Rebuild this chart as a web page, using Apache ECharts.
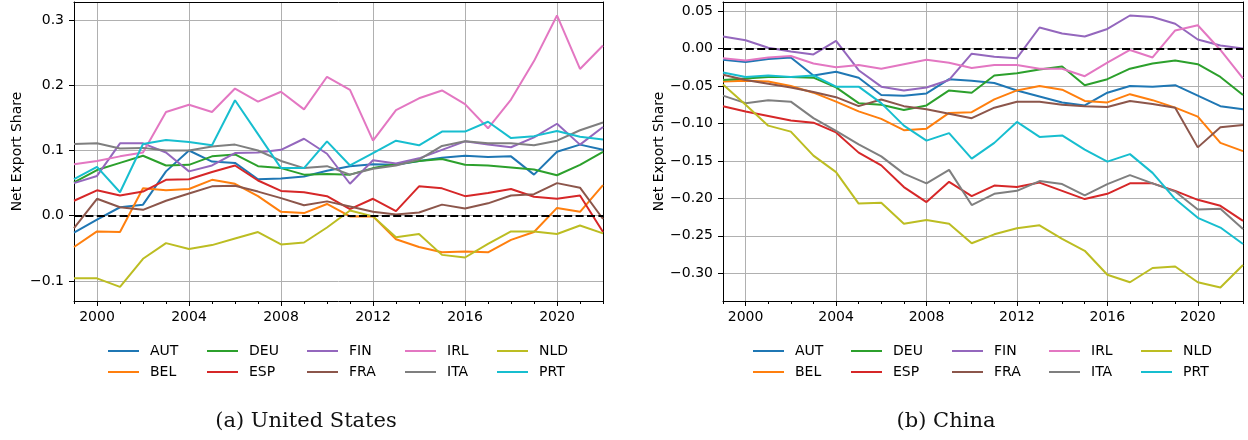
<!DOCTYPE html>
<html>
<head>
<meta charset="utf-8">
<script src="https://cdn.jsdelivr.net/npm/echarts@6/dist/echarts.min.js"></script>
<style>
  html, body { margin: 0; padding: 0; background: #fff; }
  #chart { width: 1248px; height: 440px; }
</style>
</head>
<body>
<div id="chart"></div>
<script>
// Years on the horizontal axis
const years = [1999, 2000, 2001, 2002, 2003, 2004, 2005, 2006, 2007, 2008, 2009, 2010,
               2011, 2012, 2013, 2014, 2015, 2016, 2017, 2018, 2019, 2020, 2021, 2022];
const yearTicks = [2000, 2004, 2008, 2012, 2016, 2020];

const countries = ['AUT', 'BEL', 'DEU', 'ESP', 'FIN', 'FRA', 'IRL', 'ITA', 'NLD', 'PRT'];
const colors = ['#1f77b4', '#ff7f0e', '#2ca02c', '#d62728', '#9467bd',
                '#8c564b', '#e377c2', '#7f7f7f', '#bcbd22', '#17becf'];

// (a) Net export share vis-a-vis the United States
const usAUT = [-0.026, -0.006, 0.013, 0.017, 0.068, 0.100, 0.083, 0.081, 0.056, 0.057, 0.060, 0.069, 0.076, 0.079, 0.078, 0.084, 0.089, 0.092, 0.090, 0.091, 0.063, 0.098, 0.109, 0.101];
const usBEL = [-0.048, -0.024, -0.025, 0.042, 0.039, 0.041, 0.055, 0.049, 0.030, 0.006, 0.004, 0.018, -0.001, -0.001, -0.036, -0.048, -0.056, -0.055, -0.056, -0.037, -0.025, 0.012, 0.006, 0.047];
const usDEU = [0.051, 0.070, 0.081, 0.092, 0.077, 0.078, 0.091, 0.094, 0.076, 0.073, 0.063, 0.064, 0.063, 0.073, 0.079, 0.084, 0.087, 0.078, 0.077, 0.074, 0.071, 0.062, 0.078, 0.098];
const usESP = [0.023, 0.039, 0.031, 0.037, 0.055, 0.056, 0.067, 0.077, 0.054, 0.038, 0.036, 0.030, 0.010, 0.026, 0.007, 0.045, 0.042, 0.030, 0.035, 0.041, 0.029, 0.026, 0.031, -0.025];
const usFIN = [0.050, 0.061, 0.111, 0.111, 0.097, 0.068, 0.077, 0.096, 0.097, 0.101, 0.118, 0.095, 0.049, 0.085, 0.080, 0.088, 0.101, 0.114, 0.109, 0.105, 0.120, 0.141, 0.109, 0.136];
const usFRA = [-0.019, 0.026, 0.013, 0.009, 0.023, 0.034, 0.045, 0.046, 0.037, 0.027, 0.016, 0.022, 0.014, 0.006, 0.002, 0.005, 0.017, 0.011, 0.019, 0.031, 0.033, 0.050, 0.043, -0.005];
const usIRL = [0.079, 0.084, 0.091, 0.097, 0.159, 0.170, 0.159, 0.195, 0.175, 0.190, 0.163, 0.213, 0.193, 0.115, 0.162, 0.180, 0.192, 0.171, 0.134, 0.178, 0.237, 0.307, 0.225, 0.261];
const usITA = [0.110, 0.111, 0.103, 0.104, 0.100, 0.100, 0.106, 0.109, 0.100, 0.084, 0.073, 0.076, 0.063, 0.072, 0.077, 0.086, 0.107, 0.114, 0.111, 0.111, 0.108, 0.115, 0.131, 0.143];
const usNLD = [-0.096, -0.096, -0.109, -0.066, -0.042, -0.051, -0.045, -0.035, -0.025, -0.044, -0.041, -0.018, 0.008, -0.001, -0.033, -0.028, -0.060, -0.064, -0.043, -0.024, -0.024, -0.028, -0.015, -0.027];
const usPRT = [0.056, 0.075, 0.036, 0.110, 0.116, 0.113, 0.108, 0.177, 0.125, 0.073, 0.073, 0.114, 0.077, 0.096, 0.115, 0.108, 0.129, 0.129, 0.144, 0.119, 0.122, 0.130, 0.121, 0.117];

// (b) Net export share vis-a-vis China
const cnAUT = [-0.015, -0.018, -0.014, -0.012, -0.036, -0.031, -0.039, -0.062, -0.063, -0.060, -0.041, -0.043, -0.046, -0.056, -0.064, -0.072, -0.076, -0.059, -0.050, -0.051, -0.049, -0.063, -0.077, -0.081];
const cnBEL = [-0.044, -0.043, -0.044, -0.050, -0.059, -0.071, -0.084, -0.094, -0.109, -0.107, -0.086, -0.085, -0.068, -0.056, -0.050, -0.055, -0.070, -0.072, -0.061, -0.069, -0.079, -0.091, -0.126, -0.137];
const cnDEU = [-0.042, -0.040, -0.038, -0.038, -0.039, -0.052, -0.073, -0.075, -0.082, -0.076, -0.056, -0.059, -0.036, -0.033, -0.028, -0.024, -0.049, -0.041, -0.027, -0.020, -0.016, -0.021, -0.038, -0.062];
const cnESP = [-0.077, -0.084, -0.090, -0.096, -0.099, -0.112, -0.139, -0.156, -0.185, -0.205, -0.178, -0.197, -0.183, -0.185, -0.179, -0.190, -0.201, -0.194, -0.180, -0.180, -0.190, -0.202, -0.210, -0.230];
const cnFIN = [0.016, 0.011, 0.001, -0.004, -0.008, 0.010, -0.029, -0.051, -0.056, -0.052, -0.042, -0.007, -0.011, -0.013, 0.028, 0.020, 0.016, 0.026, 0.044, 0.042, 0.033, 0.012, 0.004, 0.000];
const cnFRA = [-0.035, -0.042, -0.047, -0.052, -0.058, -0.065, -0.077, -0.068, -0.077, -0.081, -0.087, -0.093, -0.079, -0.071, -0.071, -0.075, -0.077, -0.078, -0.070, -0.074, -0.079, -0.132, -0.105, -0.102];
const cnIRL = [-0.013, -0.016, -0.012, -0.010, -0.020, -0.025, -0.022, -0.027, -0.021, -0.015, -0.019, -0.026, -0.022, -0.022, -0.027, -0.027, -0.037, -0.019, -0.002, -0.012, 0.024, 0.031, -0.002, -0.040];
const cnITA = [-0.063, -0.073, -0.069, -0.071, -0.093, -0.110, -0.128, -0.144, -0.167, -0.180, -0.162, -0.209, -0.194, -0.190, -0.177, -0.181, -0.196, -0.181, -0.169, -0.180, -0.191, -0.215, -0.214, -0.241];
const cnNLD = [-0.048, -0.075, -0.103, -0.111, -0.143, -0.165, -0.207, -0.206, -0.234, -0.229, -0.234, -0.260, -0.248, -0.240, -0.236, -0.254, -0.270, -0.302, -0.312, -0.293, -0.291, -0.312, -0.319, -0.289];
const cnPRT = [-0.032, -0.038, -0.036, -0.038, -0.036, -0.051, -0.051, -0.073, -0.103, -0.123, -0.113, -0.147, -0.126, -0.098, -0.118, -0.116, -0.135, -0.151, -0.141, -0.166, -0.201, -0.226, -0.239, -0.261];

// Tick values on the vertical axes
const usTicks = [-0.1, 0.0, 0.1, 0.2, 0.3];
const cnTicks = [-0.30, -0.25, -0.20, -0.15, -0.10, -0.05, 0.00, 0.05];

const captions = ['(a) United States', '(b) China'];
const yTitle = 'Net Export Share';

const panels = [
  {
    values: [usAUT, usBEL, usDEU, usESP, usFIN, usFRA, usIRL, usITA, usNLD, usPRT],
    ticks: usTicks, digits: 1, yMin: -0.1307, yMax: 0.3276,
    grid: { left: 74, right: 645, top: 2, bottom: 139 },
    nameGap: 50,
    legendLeft: [108, 207, 307, 405, 497],
    captionX: 306
  },
  {
    values: [cnAUT, cnBEL, cnDEU, cnESP, cnFIN, cnFRA, cnIRL, cnITA, cnNLD, cnPRT],
    ticks: cnTicks, digits: 2, yMin: -0.337, yMax: 0.062,
    grid: { left: 723, right: 5, top: 2, bottom: 139 },
    nameGap: 57,
    legendLeft: [753, 851, 952, 1049, 1141],
    captionX: 946
  }
];

const FONT = 'DejaVu Sans';
const legendColumns = [['AUT', 'BEL'], ['DEU', 'ESP'], ['FIN', 'FRA'], ['IRL', 'ITA'], ['NLD', 'PRT']];
const frameLine = { show: true, onZero: false, lineStyle: { color: '#000', width: 1 } };
const tickStyle = { color: '#000', width: 1 };

const fmtMinus = (v, d) => (v < -1e-9 ? '\u2212' : '') + Math.abs(v).toFixed(d);

const grids = [], xAxes = [], yAxes = [], series = [], legends = [], graphics = [];

panels.forEach((p, pi) => {
  grids.push(Object.assign({ show: false }, p.grid));

  // major year axis: labels, ticks and grid lines
  xAxes.push({
    type: 'value', gridIndex: pi, min: 1999, max: 2022, position: 'bottom',
    axisLine: frameLine,
    axisTick: { show: true, length: 5, customValues: yearTicks, lineStyle: tickStyle },
    axisLabel: { customValues: yearTicks, fontSize: 14, color: '#000', fontFamily: FONT, margin: 9,
                 formatter: v => String(v) },
    splitLine: { show: true, lineStyle: { color: '#b0b0b0', width: 1 } }
  });
  // minor ticks, one per year
  xAxes.push({
    type: 'value', gridIndex: pi, min: 1999, max: 2022, interval: 1, position: 'bottom',
    axisLine: { show: false, onZero: false },
    axisTick: { show: true, length: 3, lineStyle: tickStyle },
    axisLabel: { show: false },
    splitLine: { show: false }
  });
  // top edge of the frame
  xAxes.push({
    type: 'value', gridIndex: pi, min: 1999, max: 2022, position: 'top',
    axisLine: frameLine, axisTick: { show: false }, axisLabel: { show: false }, splitLine: { show: false }
  });

  yAxes.push({
    type: 'value', gridIndex: pi, min: p.yMin, max: p.yMax, position: 'left',
    axisLine: frameLine,
    axisTick: { show: true, length: 5, customValues: p.ticks, lineStyle: tickStyle },
    axisLabel: { customValues: p.ticks, fontSize: 14, color: '#000', fontFamily: FONT, margin: 10,
                 formatter: v => fmtMinus(v, p.digits) },
    splitLine: { show: true, lineStyle: { color: '#b0b0b0', width: 1 } },
    name: yTitle, nameLocation: 'middle', nameGap: p.nameGap,
    nameTextStyle: { fontSize: 14, color: '#000', fontFamily: FONT }
  });
  // right edge of the frame
  yAxes.push({
    type: 'value', gridIndex: pi, min: p.yMin, max: p.yMax, position: 'right',
    axisLine: frameLine, axisTick: { show: false }, axisLabel: { show: false }, splitLine: { show: false }
  });

  countries.forEach((c, ci) => {
    const s = {
      type: 'line', name: c, xAxisIndex: pi * 3, yAxisIndex: pi * 2,
      data: years.map((y, k) => [y, p.values[ci][k]]),
      showSymbol: false, symbol: 'none', animation: false,
      lineStyle: { width: 2, color: colors[ci] },
      itemStyle: { color: colors[ci] }
    };
    if (ci === countries.length - 1) {
      // dashed zero reference line drawn above the series
      s.markLine = {
        silent: true, symbol: 'none', animation: false,
        label: { show: false },
        lineStyle: { color: '#000', width: 2, type: [8, 3.4] },
        data: [{ yAxis: 0 }]
      };
    }
    series.push(s);
  });

  legendColumns.forEach((col, k) => {
    legends.push({
      orient: 'vertical', left: p.legendLeft[k], top: 343,
      data: col, icon: 'rect', itemWidth: 31, itemHeight: 2, itemGap: 5,
      selectedMode: false, padding: 0,
      textStyle: { fontSize: 14, color: '#000', fontFamily: FONT, lineHeight: 16, padding: [0, 0, 0, 6] }
    });
  });

  graphics.push({
    type: 'text', x: p.captionX, y: 422,
    style: { text: captions[pi], font: '21px "DejaVu Serif"', fill: '#111', textAlign: 'center', textVerticalAlign: 'middle' }
  });
});

const chart = echarts.init(document.getElementById('chart'), null, { renderer: 'canvas' });
chart.setOption({
  animation: false,
  backgroundColor: '#fff',
  grid: grids, xAxis: xAxes, yAxis: yAxes,
  legend: legends, series: series, graphic: graphics
});
</script>
</body>
</html>
